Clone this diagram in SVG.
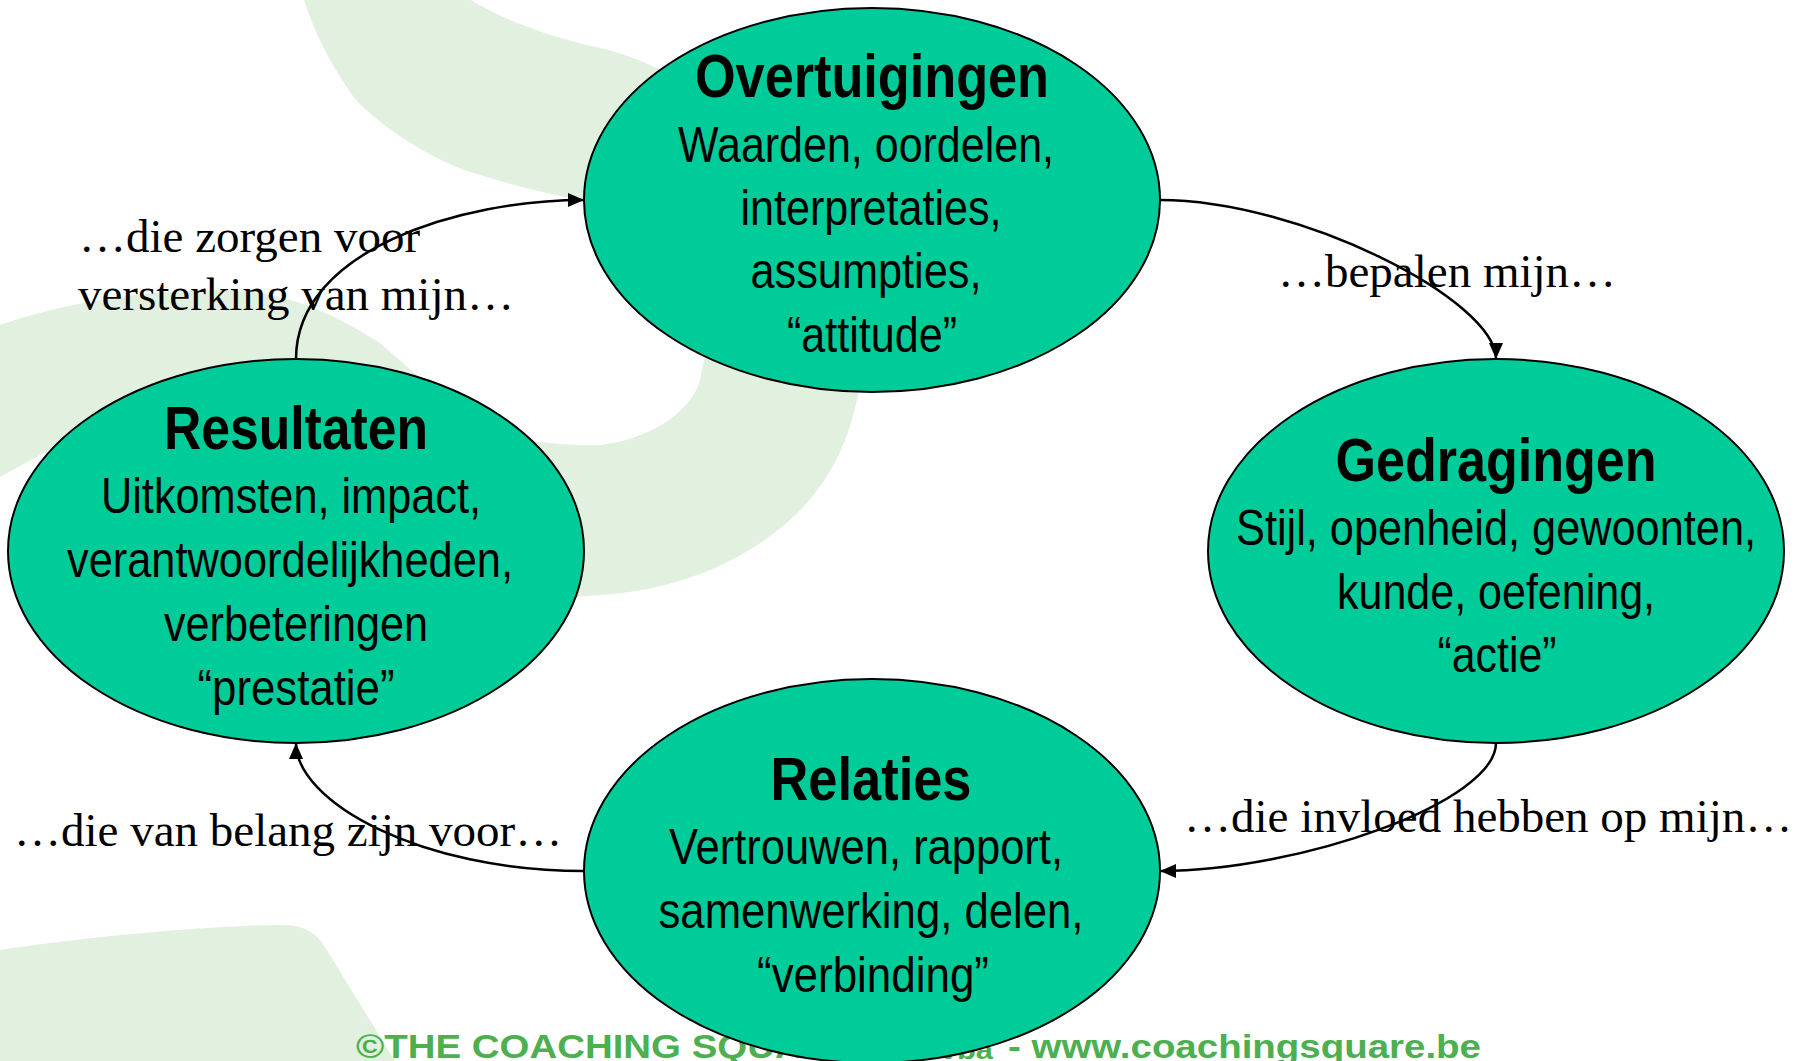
<svg xmlns="http://www.w3.org/2000/svg" width="1810" height="1061" viewBox="0 0 1810 1061">
  <style>
    .bg { fill: #e2f0e0; stroke: none; }
    .node { fill: #00cc99; stroke: #000; stroke-width: 2; }
    .title { font-family: "Liberation Sans Narrow", "Liberation Sans", Arial, sans-serif; font-weight: bold; font-size: 62px; text-anchor: middle; fill: #000; }
    .body { font-family: "Liberation Sans Narrow", "Liberation Sans", Arial, sans-serif; font-size: 50px; text-anchor: middle; fill: #000; }
    .lbl { font-family: "Liberation Serif", "Times New Roman", serif; font-size: 47px; fill: #000; }
    .conn { fill: none; stroke: #000; stroke-width: 2.5; marker-end: url(#arrow); }
    .foot { font-family: "Liberation Sans", Arial, sans-serif; font-weight: bold; fill: #4caf50; }
  </style>
  <defs>
    <marker id="arrow" markerUnits="userSpaceOnUse" markerWidth="16" markerHeight="14" viewBox="0 0 16 14" refX="16" refY="7" orient="auto">
      <path d="M0,0 L16,7 L0,14 Z" fill="#000"/>
    </marker>
  </defs>
  <rect x="0" y="0" width="1810" height="1061" fill="#ffffff"/>

  <g id="background">
    <path class="bg" d="M 304,0 L 471,0 C 495,15 540,35 600,48 C 625,54 645,62 660,70 L 760,120 L 850,260 L 860,385 C 852,430 835,480 790,520 C 745,560 680,590 600,595 L 540,600 L 460,500 L 510,440 C 530,440 560,446 600,445 C 645,440 690,415 700,380 L 706,350 L 680,300 L 640,240 L 590,202 C 560,196 510,186 459,168 C 420,152 380,125 356,100 C 335,72 315,35 304,0 Z"/>
    <path class="bg" d="M 0,325 C 60,304 140,290 220,290 C 290,290 340,318 380,343 L 445,400 L 300,480 L 140,400 L 0,477 Z"/>
    <path class="bg" d="M 0,950 C 100,935 220,925 285,925 C 305,925 318,935 325,947 L 395,1061 L 0,1061 Z"/>
  </g>

  <g id="footer">
    <text class="foot" x="356" y="1058" font-size="34" textLength="500" lengthAdjust="spacingAndGlyphs">©THE COACHING SQUARE</text>
    <text class="foot" x="921" y="1059" font-size="26" textLength="72" lengthAdjust="spacingAndGlyphs">bvba</text>
    <text class="foot" x="1008" y="1058" font-size="34" textLength="473" lengthAdjust="spacingAndGlyphs">- www.coachingsquare.be</text>
  </g>

  <g id="node-overtuigingen">
    <ellipse class="node" cx="872" cy="200" rx="288" ry="192"/>
    <text class="title" x="872" y="97" textLength="354" lengthAdjust="spacingAndGlyphs">Overtuigingen</text>
    <text class="body" x="866" y="162" textLength="376" lengthAdjust="spacingAndGlyphs">Waarden, oordelen,</text>
    <text class="body" x="871" y="225" textLength="261" lengthAdjust="spacingAndGlyphs">interpretaties,</text>
    <text class="body" x="866" y="288" textLength="231" lengthAdjust="spacingAndGlyphs">assumpties,</text>
    <text class="body" x="872" y="352" textLength="170" lengthAdjust="spacingAndGlyphs">“attitude”</text>
  </g>

  <g id="node-gedragingen">
    <ellipse class="node" cx="1496" cy="551" rx="288" ry="192"/>
    <text class="title" x="1496" y="481" textLength="321" lengthAdjust="spacingAndGlyphs">Gedragingen</text>
    <text class="body" x="1496" y="545" textLength="520" lengthAdjust="spacingAndGlyphs">Stijl, openheid, gewoonten,</text>
    <text class="body" x="1496" y="609" textLength="318" lengthAdjust="spacingAndGlyphs">kunde, oefening,</text>
    <text class="body" x="1497" y="672" textLength="119" lengthAdjust="spacingAndGlyphs">“actie”</text>
  </g>

  <g id="node-relaties">
    <ellipse class="node" cx="872" cy="871" rx="288" ry="192"/>
    <text class="title" x="871" y="800" textLength="201" lengthAdjust="spacingAndGlyphs">Relaties</text>
    <text class="body" x="866" y="864" textLength="394" lengthAdjust="spacingAndGlyphs">Vertrouwen, rapport,</text>
    <text class="body" x="871" y="928" textLength="425" lengthAdjust="spacingAndGlyphs">samenwerking, delen,</text>
    <text class="body" x="873" y="992" textLength="232" lengthAdjust="spacingAndGlyphs">“verbinding”</text>
  </g>

  <g id="node-resultaten">
    <ellipse class="node" cx="296" cy="551" rx="288" ry="192"/>
    <text class="title" x="296" y="449" textLength="264" lengthAdjust="spacingAndGlyphs">Resultaten</text>
    <text class="body" x="291" y="513" textLength="380" lengthAdjust="spacingAndGlyphs">Uitkomsten, impact,</text>
    <text class="body" x="290" y="577" textLength="446" lengthAdjust="spacingAndGlyphs">verantwoordelijkheden,</text>
    <text class="body" x="296" y="641" textLength="264" lengthAdjust="spacingAndGlyphs">verbeteringen</text>
    <text class="body" x="296" y="705" textLength="197" lengthAdjust="spacingAndGlyphs">“prestatie”</text>
  </g>

  <g id="connectors">
    <path class="conn" d="M 1160,200 C 1300,200 1496,300 1496,359"/>
    <path class="conn" d="M 1496,743 C 1496,802 1300,871 1160,871"/>
    <path class="conn" d="M 584,871 C 420,871 296,802 296,743"/>
    <path class="conn" d="M 296,359 C 296,250 460,200 584,200"/>
  </g>

  <g id="labels">
    <text class="lbl" x="79" y="252">…die zorgen voor</text>
    <text class="lbl" x="78" y="310">versterking van mijn…</text>
    <text class="lbl" x="1278" y="287">…bepalen mijn…</text>
    <text class="lbl" x="1184" y="832">…die invloed hebben op mijn…</text>
    <text class="lbl" x="14" y="846">…die van belang zijn voor…</text>
  </g>
</svg>
